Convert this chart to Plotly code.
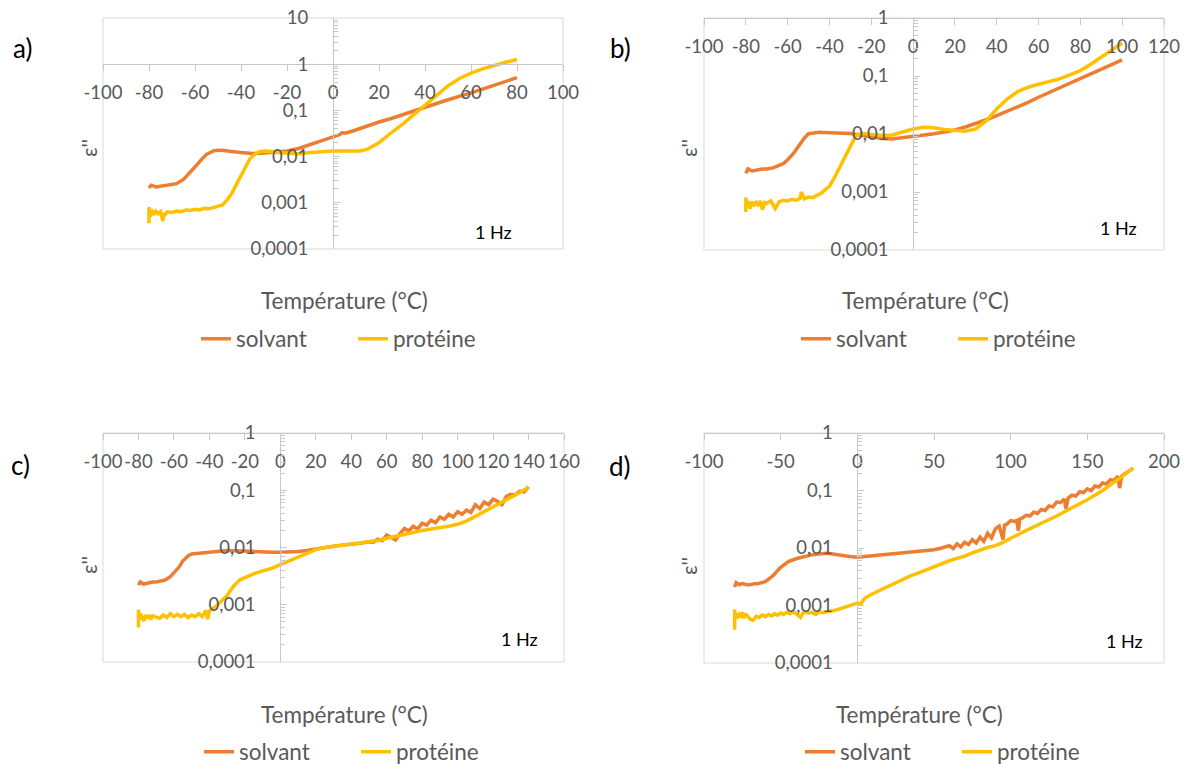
import plotly.graph_objects as go

# ---------------- data ----------------
A_T_SOLV = [-80, -79, -77, -75, -72, -70, -68, -65, -62, -60, -57, -55, -52, -50, -47, -45, -40, -35, -30, -25,
            -20, -15, -10, -5, 0, 3, 4, 5, 8, 10, 15, 20, 25, 30, 35, 40, 45, 50, 55, 60, 65, 70, 75, 80]
A_SOLV = [0.0021, 0.0024, 0.0022, 0.0023, 0.0024, 0.0025, 0.0026, 0.0032, 0.0045, 0.0060, 0.0088, 0.0112, 0.0132,
          0.0138, 0.0136, 0.0130, 0.0122, 0.0117, 0.0120, 0.0125, 0.0132, 0.0150, 0.0180, 0.0222, 0.0270, 0.0300,
          0.0330, 0.0320, 0.0350, 0.0380, 0.046, 0.056, 0.066, 0.079, 0.096, 0.117, 0.141, 0.170, 0.200, 0.240,
          0.29, 0.35, 0.42, 0.51]
A_T_PROT = [-80, -80, -79.5, -79, -78, -77, -76, -75, -74, -73.5, -73, -72, -70, -68, -66, -64, -62, -60, -58, -56,
            -54, -52, -50, -48, -46, -44, -42, -40, -38, -36, -34, -32, -30, -27.5, -25, -20, -15, -10, -5, 0,
            5, 10, 12, 15, 20, 25, 30, 35, 40, 45, 50, 55, 60, 65, 70, 75, 80]
A_PROT = [0.00036, 0.0008, 0.0005, 0.00072, 0.00055, 0.00066, 0.00058, 0.00064, 0.0004, 0.0006, 0.00056, 0.00064,
          0.00062, 0.00066, 0.00064, 0.0007, 0.00068, 0.00072, 0.0007, 0.00076, 0.00074, 0.0008, 0.00086, 0.0009,
          0.00115, 0.0016, 0.0025, 0.0039, 0.0063, 0.0092, 0.0112, 0.0128, 0.0132, 0.013, 0.0122, 0.0117, 0.0115,
          0.0122, 0.0128, 0.0132, 0.0133, 0.0132, 0.0133, 0.0145, 0.02, 0.032, 0.049, 0.08, 0.13, 0.215, 0.34,
          0.49, 0.64, 0.79, 0.95, 1.1, 1.26]

B_T_SOLV = [-80, -79, -77, -75, -72, -70, -67, -65, -62, -60, -57, -55, -52, -50, -47, -45, -40, -35, -30, -25,
            -20, -15, -10, -5, 0, 5, 10, 15, 20, 25, 30, 35, 40, 45, 50, 55, 60, 65, 70, 75, 80, 85, 90, 95, 100]
B_SOLV = [0.0021, 0.0025, 0.0023, 0.0024, 0.0025, 0.0025, 0.0026, 0.0028, 0.0031, 0.0036, 0.0047, 0.006, 0.0085,
          0.0101, 0.0106, 0.0107, 0.0105, 0.0105, 0.0102, 0.0095, 0.0089, 0.0084, 0.0082, 0.0086, 0.0091, 0.0095,
          0.0101, 0.0108, 0.0117, 0.0132, 0.015, 0.0176, 0.0207, 0.0245, 0.029, 0.035, 0.043, 0.052, 0.063, 0.076,
          0.092, 0.11, 0.132, 0.158, 0.19]
B_T_PROT = [-80, -80, -79.5, -79, -78, -77, -76, -75, -74, -73, -72, -71, -70, -68, -66, -64, -62, -60, -58, -56,
            -54, -53.5, -52, -50, -48, -46, -44, -42, -40, -37.5, -35, -32.5, -30, -27.5, -25, -20, -15, -10, -5, 0,
            5, 10, 15, 20, 25, 30, 35, 40, 45, 50, 55, 60, 65, 70, 75, 80, 85, 90, 95, 100]
B_PROT = [0.00045, 0.0008, 0.00056, 0.0007, 0.00052, 0.00068, 0.0006, 0.00066, 0.00058, 0.0007, 0.0005, 0.00066,
          0.00064, 0.0007, 0.00052, 0.00068, 0.00072, 0.0007, 0.00075, 0.00072, 0.00078, 0.001, 0.00076, 0.00082,
          0.0008, 0.00088, 0.00095, 0.0011, 0.00125, 0.0018, 0.0027, 0.0042, 0.0062, 0.0092, 0.0103, 0.0098,
          0.0094, 0.0096, 0.0108, 0.0122, 0.0131, 0.0128, 0.012, 0.0114, 0.0112, 0.0122, 0.017, 0.027, 0.04,
          0.054, 0.064, 0.072, 0.08, 0.089, 0.105, 0.124, 0.16, 0.21, 0.28, 0.37]

C_T_SOLV = [-80, -79, -77, -75, -72, -70, -67, -65, -62, -60, -57, -55, -52, -50, -45, -40, -35, -30, -25, -20,
            -15, -10, -5, 0, 5, 10, 15, 20, 25, 30, 35, 40, 45, 50, 52.5, 55, 57.5, 60, 62.5, 65,
            67.5, 70, 72.5, 75, 77.5, 80, 82.5, 85, 87.5, 90, 92.5, 95, 97.5, 100, 102.5, 105, 107.5, 110, 112.5, 115,
            117.5, 120, 122.5, 125, 127.5, 130, 132.5, 135, 137.5, 140]
C_SOLV = [0.0022, 0.0025, 0.0023, 0.0024, 0.0025, 0.0025, 0.0026, 0.0027, 0.0031, 0.0036, 0.0046, 0.0058, 0.0071,
          0.0077, 0.008, 0.0083, 0.0086, 0.0089, 0.0088, 0.0086, 0.0084, 0.0083, 0.0083, 0.0083, 0.0083, 0.0085,
          0.0089, 0.0095, 0.01, 0.0105, 0.011, 0.0112, 0.0118, 0.0126, 0.0124, 0.014, 0.0132, 0.0165, 0.015, 0.0135,
          0.0175, 0.0215, 0.0195, 0.0235, 0.021, 0.0265, 0.0245, 0.03, 0.027, 0.034, 0.031, 0.038, 0.034, 0.042,
          0.038, 0.045, 0.041, 0.056, 0.048, 0.062, 0.056, 0.07, 0.064, 0.056, 0.078, 0.085, 0.083, 0.096, 0.094,
          0.115]
C_T_PROT = [-80, -80, -79.5, -79, -78, -77, -76, -75, -74, -73, -72, -70, -68, -66, -64, -62, -60, -58, -56, -54,
            -52, -50, -48, -46, -44, -42, -41, -40, -38, -36, -34, -32, -30, -27.5, -25, -22.5, -20, -15, -10, -5,
            0, 5, 10, 15, 20, 25, 30, 35, 40, 45, 50, 55, 60, 65, 70, 75, 80, 85, 90, 95,
            100, 105, 110, 115, 120, 125, 130, 135, 140]
C_PROT = [0.0004, 0.00082, 0.00055, 0.0007, 0.0006, 0.00052, 0.00066, 0.00058, 0.00066, 0.00055, 0.00064, 0.00062,
          0.00058, 0.00066, 0.0006, 0.0007, 0.00062, 0.00068, 0.00062, 0.00068, 0.0006, 0.00066, 0.00062, 0.0007,
          0.00062, 0.0008, 0.00056, 0.00078, 0.00085, 0.00095, 0.0011, 0.00125, 0.00145, 0.0019, 0.00235, 0.00275,
          0.003, 0.00345, 0.0039, 0.0043, 0.005, 0.0058, 0.0067, 0.008, 0.0092, 0.01, 0.0105, 0.0109, 0.0112,
          0.0118, 0.0124, 0.0133, 0.0145, 0.0158, 0.017, 0.0185, 0.0198, 0.021, 0.022, 0.0235, 0.0255, 0.029,
          0.035, 0.042, 0.05, 0.062, 0.075, 0.092, 0.112]

D_T_SOLV = [-80, -79, -77, -75, -72, -70, -67, -65, -60, -55, -50, -45, -40, -35, -30, -25, -20, -15, -10, -5,
            0, 5, 10, 20, 30, 40, 50, 55, 60, 62.5, 65, 67.5, 70, 72.5, 75, 77.5, 80, 82.5, 85, 87.5,
            90, 92.5, 95, 96, 97.5, 100, 102.5, 104, 105, 106, 107.5, 110, 112.5, 115, 117.5, 120, 122.5, 125, 127.5,
            130, 132.5, 135, 136, 137.5, 140, 142.5, 145, 147.5, 150, 152.5, 155, 157.5, 160, 162.5, 165, 167.5,
            170, 171, 172.5, 175, 177.5, 180]
D_SOLV = [0.0021, 0.0025, 0.0023, 0.0024, 0.0023, 0.0023, 0.0024, 0.0024, 0.0026, 0.0033, 0.0046, 0.0058, 0.0065,
          0.0071, 0.0076, 0.0079, 0.0081, 0.0078, 0.0074, 0.0071, 0.0069, 0.0072, 0.0073, 0.0078, 0.0083, 0.0087,
          0.0093, 0.01, 0.011, 0.0098, 0.0118, 0.0105, 0.0126, 0.0115, 0.014, 0.0122, 0.0155, 0.013, 0.018, 0.015,
          0.0215, 0.024, 0.014, 0.025, 0.026, 0.03, 0.029, 0.03, 0.02, 0.032, 0.033, 0.037, 0.036, 0.042, 0.04,
          0.047, 0.045, 0.054, 0.052, 0.063, 0.062, 0.071, 0.048, 0.074, 0.083, 0.08, 0.095, 0.092, 0.107, 0.1,
          0.12, 0.115, 0.135, 0.13, 0.155, 0.15, 0.178, 0.11, 0.18, 0.2, 0.22, 0.245]
D_T_PROT = [-80, -80, -79.5, -79, -78, -77, -76, -75, -74, -73, -72, -70, -68, -66, -64, -62, -60, -58, -56, -54,
            -52, -50, -48, -46, -44, -42, -40, -37, -35, -32, -30, -27, -25, -22, -20, -15, -10, -5, 0, 2,
            5, 10, 15, 20, 25, 30, 35, 40, 45, 50, 55, 60, 65, 70, 75, 80, 85, 90, 95, 100,
            105, 110, 120, 130, 140, 150, 160, 170, 175, 180]
D_PROT = [0.00038, 0.00085, 0.0006, 0.00072, 0.00064, 0.0007, 0.00062, 0.00076, 0.0006, 0.00072, 0.00066, 0.00058,
          0.00055, 0.00065, 0.00062, 0.00068, 0.00064, 0.0007, 0.00066, 0.00072, 0.00068, 0.00074, 0.0007, 0.00076,
          0.00072, 0.00078, 0.00073, 0.00062, 0.00078, 0.00074, 0.00076, 0.0007, 0.00078, 0.00075, 0.00078,
          0.00082, 0.0009, 0.001, 0.0011, 0.00105, 0.00135, 0.0016, 0.00185, 0.00212, 0.0025, 0.0029, 0.0033,
          0.0037, 0.0042, 0.0048, 0.0054, 0.006, 0.0066, 0.0072, 0.0082, 0.0093, 0.0102, 0.011, 0.0125, 0.0148,
          0.017, 0.02, 0.027, 0.036, 0.05, 0.069, 0.1, 0.155, 0.195, 0.245]

A_XTICKS = [-100, -80, -60, -40, -20, 0, 20, 40, 60, 80, 100]
B_XTICKS = [-100, -80, -60, -40, -20, 0, 20, 40, 60, 80, 100, 120]
C_XTICKS = [-100, -80, -60, -40, -20, 0, 20, 40, 60, 80, 100, 120, 140, 160]
D_XTICKS = [-100, -50, 0, 50, 100, 150, 200]

Y_TICKS_A = [0.0001, 0.001, 0.01, 0.1, 1, 10]
Y_TEXT_A = ["0,0001", "0,001", "0,01", "0,1", "1", "10"]
Y_TICKS = [0.0001, 0.001, 0.01, 0.1, 1]
Y_TEXT = ["0,0001", "0,001", "0,01", "0,1", "1"]

SERIES_NAMES = ["solvant", "protéine"]
PANEL_LABELS = ["a)", "b)", "c)", "d)"]
FREQ_LABEL = "1 Hz"
X_TITLE = "Température (°C)"
Y_TITLE = "ε''"

# ---------------- styling / layout ----------------
W, H = 1186, 764
FONT = "Lato"
GRAY = "#595959"
AXIS_C = "#C8C8C8"
BOX_C = "#D9D9D9"
COL_SOLV = "#ED7D31"
COL_PROT = "#FFC000"


def fx(x):
    return x / W


def fy(y):
    return 1 - y / H


panels = [
    dict(px=(103, 563), py=(18, 249), xr=(-100, 100), yr=(-4, 1), xt=A_XTICKS, yt=Y_TICKS_A, ytx=Y_TEXT_A,
         data=(A_T_SOLV, A_SOLV, A_T_PROT, A_PROT), lab=(22, 48), hz=(493, 232), xtl=(344, 300), ytl=(88, 148),
         leg=(196, 339)),
    dict(px=(704, 1164), py=(18, 250), xr=(-100, 120), yr=(-4, 0), xt=B_XTICKS, yt=Y_TICKS, ytx=Y_TEXT,
         data=(B_T_SOLV, B_SOLV, B_T_PROT, B_PROT), lab=(620, 48), hz=(1118, 228), xtl=(925, 300), ytl=(688, 148),
         leg=(796, 339)),
    dict(px=(103, 564), py=(433, 662), xr=(-100, 160), yr=(-4, 0), xt=C_XTICKS, yt=Y_TICKS, ytx=Y_TEXT,
         data=(C_T_SOLV, C_SOLV, C_T_PROT, C_PROT), lab=(20, 465), hz=(519, 639), xtl=(344, 714), ytl=(88, 565),
         leg=(199, 752)),
    dict(px=(704, 1164), py=(433, 663), xr=(-100, 200), yr=(-4, 0), xt=D_XTICKS, yt=Y_TICKS, ytx=Y_TEXT,
         data=(D_T_SOLV, D_SOLV, D_T_PROT, D_PROT), lab=(620, 466), hz=(1124, 641), xtl=(919, 714), ytl=(688, 566),
         leg=(800, 752)),
]

fig = go.Figure()
layout = dict(width=W, height=H, margin=dict(l=0, r=0, t=0, b=0, autoexpand=False), autosize=False,
              paper_bgcolor="white", plot_bgcolor="white", font=dict(family=FONT, color=GRAY, size=18))
shapes = []
annotations = []

for i, p in enumerate(panels):
    n = "" if i == 0 else str(i + 1)
    xa, ya = "x" + n, "y" + n
    leg = "legend" + n
    ts, vs, tp, vp = p["data"]
    fig.add_trace(go.Scatter(x=ts, y=vs, mode="lines", name=SERIES_NAMES[0], xaxis=xa, yaxis=ya, legend=leg,
                             line=dict(color=COL_SOLV, width=3.5)))
    fig.add_trace(go.Scatter(x=tp, y=vp, mode="lines", name=SERIES_NAMES[1], xaxis=xa, yaxis=ya, legend=leg,
                             line=dict(color=COL_PROT, width=3.5)))

    x0, x1 = p["px"]
    y0, y1 = p["py"]
    xmin, xmax = p["xr"]
    lmin, lmax = p["yr"]
    # pixel position of the x axis line (at y = 1) and y axis line (at x = 0)
    ax_y = y0 + (lmax - 0) / (lmax - lmin) * (y1 - y0)
    ax_x = x0 + (0 - xmin) / (xmax - xmin) * (x1 - x0)

    minor_vals = [k * 10 ** e for e in range(lmin, lmax) for k in range(2, 10)]

    layout["xaxis" + n] = dict(
        domain=[fx(x0), fx(x1)], range=[xmin, xmax], anchor="free", position=fy(ax_y),
        tickmode="array", tickvals=p["xt"], ticktext=[str(v) for v in p["xt"]], tickangle=0,
        showline=True, linecolor=AXIS_C, linewidth=1, ticks="outside", ticklen=6, tickcolor=AXIS_C,
        showgrid=False, zeroline=False, ticklabelstandoff=6, automargin=False,
        tickfont=dict(family=FONT, size=18.5, color=GRAY),
    )
    layout["yaxis" + n] = dict(
        domain=[fy(y1), fy(y0)], type="log", range=[lmin, lmax], anchor="free", position=fx(ax_x),
        tickmode="array", tickvals=p["yt"], ticktext=p["ytx"],
        showline=True, linecolor=AXIS_C, linewidth=1, ticks="inside", ticklen=6, tickcolor=AXIS_C,
        minor=dict(tickvals=minor_vals, ticks="inside", ticklen=4, tickcolor=AXIS_C, showgrid=False),
        showgrid=False, zeroline=False, ticklabelstandoff=21, automargin=False,
        tickfont=dict(family=FONT, size=18.5, color=GRAY),
    )
    shapes.append(dict(type="rect", xref="paper", yref="paper", x0=fx(x0), x1=fx(x1), y0=fy(y1), y1=fy(y0),
                       line=dict(color=BOX_C, width=1), fillcolor="rgba(0,0,0,0)", layer="below"))

    annotations.append(dict(text=PANEL_LABELS[i], x=fx(p["lab"][0]), y=fy(p["lab"][1]), xref="paper",
                            yref="paper", showarrow=False, xanchor="center", yanchor="middle",
                            font=dict(family=FONT, size=26, color="#000000")))
    annotations.append(dict(text=FREQ_LABEL, x=fx(p["hz"][0]), y=fy(p["hz"][1]), xref="paper", yref="paper",
                            showarrow=False, xanchor="center", yanchor="middle",
                            font=dict(family=FONT, size=18, color="#000000")))
    annotations.append(dict(text=X_TITLE, x=fx(p["xtl"][0]), y=fy(p["xtl"][1]), xref="paper", yref="paper",
                            showarrow=False, xanchor="center", yanchor="middle",
                            font=dict(family=FONT, size=22.5, color=GRAY)))
    annotations.append(dict(text=Y_TITLE, x=fx(p["ytl"][0]), y=fy(p["ytl"][1]), xref="paper", yref="paper",
                            showarrow=False, xanchor="center", yanchor="middle", textangle=-90,
                            font=dict(family=FONT, size=21, color=GRAY)))

    layout[leg] = dict(orientation="h", x=fx(p["leg"][0]), y=fy(p["leg"][1]), xanchor="left", yanchor="middle",
                       xref="paper", yref="paper", font=dict(family=FONT, size=22.5, color=GRAY),
                       bgcolor="rgba(0,0,0,0)", itemwidth=30, entrywidth=112, entrywidthmode="pixels")

layout["shapes"] = shapes
layout["annotations"] = annotations
fig.update_layout(**layout)
fig.write_html("out.html", config={"displayModeBar": False},
               post_script="document.body.style.margin='0px';")
